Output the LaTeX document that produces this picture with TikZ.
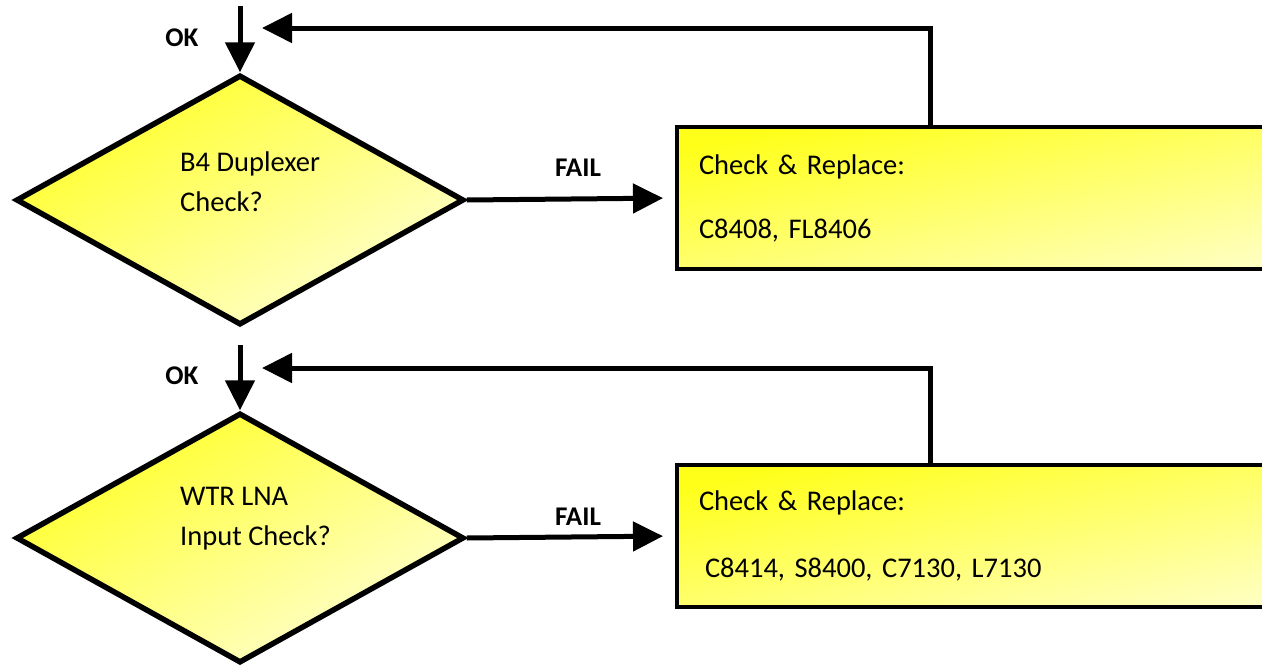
\documentclass[tikz,border=0pt]{standalone}
\usepackage{fontspec}
\setmainfont{Carlito}
\usetikzlibrary{shapes.geometric,positioning,arrows.meta}

\begin{document}
\begin{tikzpicture}[
  x=1pt,y=-1pt,
  >={Triangle[length=30pt,width=29pt]},
  flow/.style={line width=5pt},
  decision/.style={diamond,draw,line width=5.5pt,minimum width=448pt,minimum height=250pt,
    inner sep=0pt,top color=yellow!85,bottom color=yellow!18,shading angle=30},
  action/.style={rectangle,draw,line width=4pt,minimum height=142pt,text width=610pt,
    inner xsep=22pt,align=left,top color=yellow!90,bottom color=yellow!25,shading angle=12,
    font=\fontsize{28.5}{38}\selectfont},
  question/.style={align=left,inner sep=0pt,font=\fontsize{28.5}{40}\selectfont},
  tag/.style={font=\bfseries\fontsize{27}{30}\selectfont}
]
  \clip (0,0) rectangle (1262,672);

  % first check
  \node[decision] (dup) at (240,200) {};
  \node[question,anchor=west] (dupq) at (180,182) {B4 Duplexer\\Check?};
  \node[action,anchor=west] (dupfix) at (675,198)
    {Check \& Replace:\\[26pt]C8408, FL8406};
  \coordinate (dupin) at (240,6);
  \coordinate (dupturn) at (930,28);
  \coordinate (dupback) at (262,28);
  \node[tag] (dupok) at (182,38) {OK};
  \node[tag] (dupfail) at (578,168) {FAIL};
  \draw[flow,->] (dupin) -- (dup.north);
  \draw[flow,->,shorten >=12pt] (dup.east) -- (dupfix.west);
  \draw[flow,->] (dupfix.north -| dupturn) -- (dupturn) -- (dupback);

  % second check
  \node[decision] (lna) at (240,538) {};
  \node[question,anchor=west] (lnaq) at (180,519) {WTR LNA\\Input Check?};
  \node[action,anchor=west] (lnafix) at (675,536)
    {Check \& Replace:\\[29pt]\hspace*{6pt}C8414, S8400, C7130, L7130};
  \coordinate (lnain) at (240,345);
  \coordinate (lnaturn) at (930,368);
  \coordinate (lnaback) at (262,368);
  \node[tag] (lnaok) at (182,376) {OK};
  \node[tag] (lnafail) at (578,517) {FAIL};
  \draw[flow,->] (lnain) -- (lna.north);
  \draw[flow,->,shorten >=12pt] (lna.east) -- (lnafix.west);
  \draw[flow,->] (lnafix.north -| lnaturn) -- (lnaturn) -- (lnaback);
\end{tikzpicture}
\end{document}
